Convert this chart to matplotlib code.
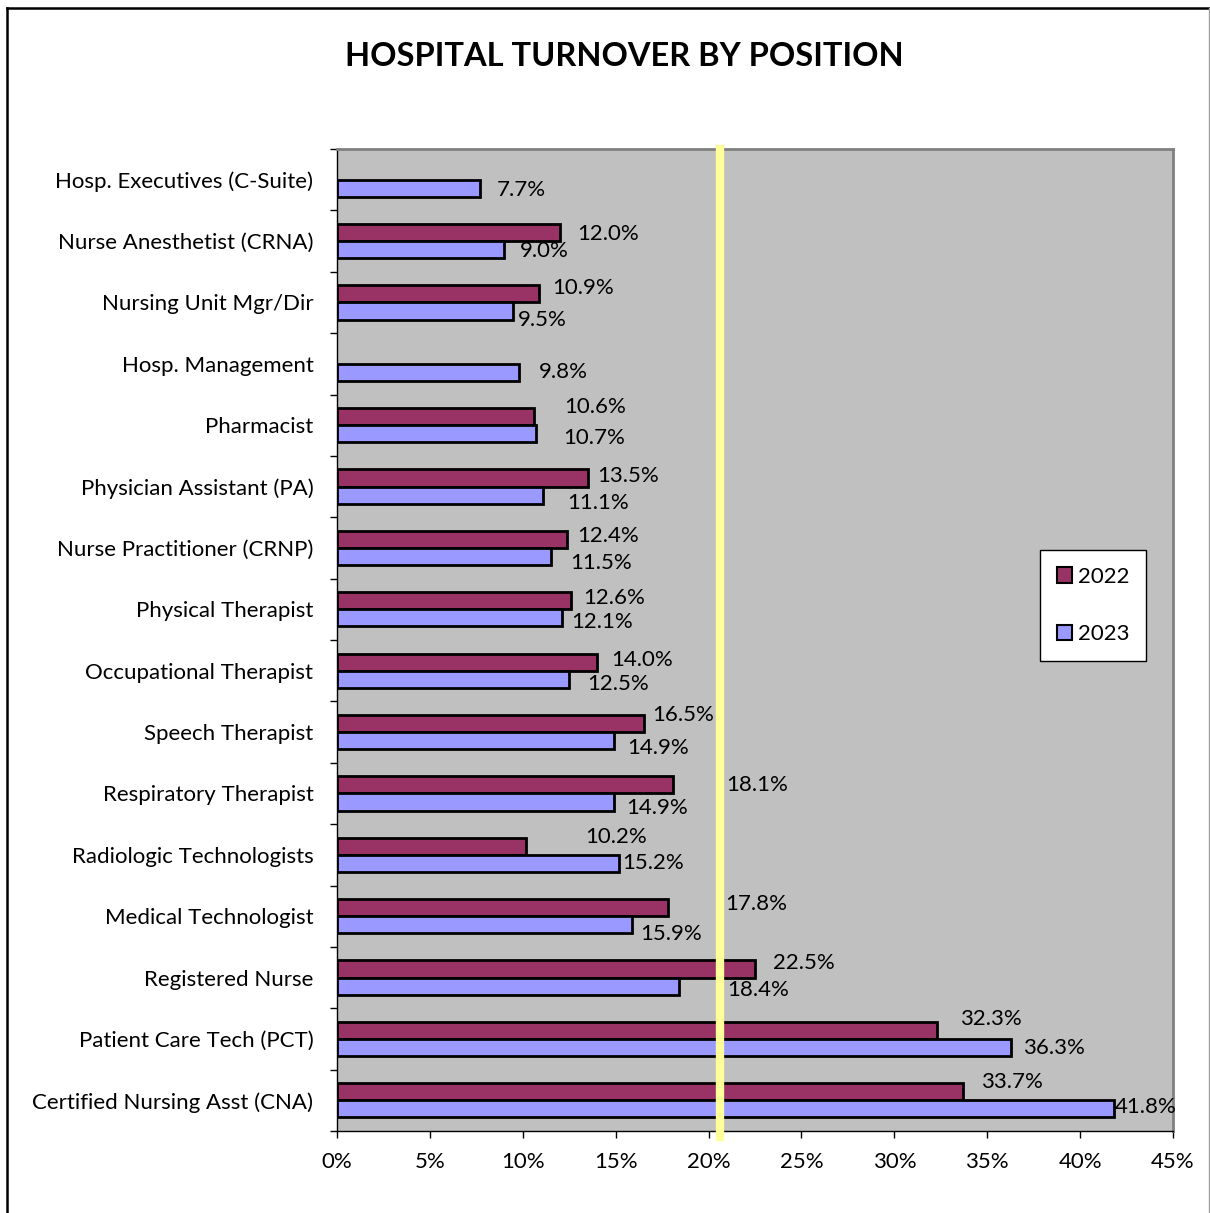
import matplotlib.pyplot as plt
from matplotlib.patches import Rectangle
from matplotlib.lines import Line2D
import numpy as np

plt.rcParams["font.family"] = ["Lato", "DejaVu Sans"]

# categories listed bottom to top
positions = [
    "Certified Nursing Asst (CNA)",
    "Patient Care Tech (PCT)",
    "Registered Nurse",
    "Medical Technologist",
    "Radiologic Technologists",
    "Respiratory Therapist",
    "Speech Therapist",
    "Occupational Therapist",
    "Physical Therapist",
    "Nurse Practitioner (CRNP)",
    "Physician Assistant (PA)",
    "Pharmacist",
    "Hosp. Management",
    "Nursing Unit Mgr/Dir",
    "Nurse Anesthetist (CRNA)",
    "Hosp. Executives (C-Suite)",
]
turnover_2022 = [33.7, 32.3, 22.5, 17.8, 10.2, 18.1, 16.5, 14.0, 12.6, 12.4, 13.5, 10.6, None, 10.9, 12.0, None]
turnover_2023 = [41.8, 36.3, 18.4, 15.9, 15.2, 14.9, 14.9, 12.5, 12.1, 11.5, 11.1, 10.7, 9.8, 9.5, 9.0, 7.7]
x_ticks = [0, 5, 10, 15, 20, 25, 30, 35, 40, 45]
marker_line = 20.6

# label nudges in pixels (right / down), Excel-style placement
dx_2022 = [18, 23, 18, 58, 59, 53, 9, 14, 12, 10, 9, 30, 0, 13, 17, 0]
dy_2022 = [-10, -11, -6, -4, -9, 0, -8, -2, -3, -3, -2, -10, 0, -6, 2, 0]
dx_2023 = [1, 12, 48, 8, 3, 12, 13, 18, 9, 20, 24, 27, 20, 4, 16, 17]
dy_2023 = [-2, 0, 4, 9, 0, 6, 7, 5, 4, 6, 8, 4, 0, 9, 1, 2]

c2022 = "#993366"
c2023 = "#9999FF"

fig = plt.figure(figsize=(12.1, 12.13), dpi=100)
ax = fig.add_axes([337 / 1210, 82 / 1213, 836 / 1210, 982 / 1213])
ax.set_facecolor("#C0C0C0")

y = np.arange(len(positions))
h = 0.28
px2pt = 0.72
fs = 16

for i, v in enumerate(turnover_2022):
    if v is None:
        continue
    ax.barh(y[i] + h / 2, v, height=h, color=c2022, edgecolor="black", linewidth=2, zorder=3)
    ax.annotate(f"{v:.1f}%", (v, y[i] + h / 2), xytext=(dx_2022[i] * px2pt, -dy_2022[i] * px2pt),
                textcoords="offset points", ha="left", va="center", fontsize=fs, zorder=5)
for i, v in enumerate(turnover_2023):
    ax.barh(y[i] - h / 2, v, height=h, color=c2023, edgecolor="black", linewidth=2, zorder=3)
    ax.annotate(f"{v:.1f}%", (v, y[i] - h / 2), xytext=(dx_2023[i] * px2pt, -dy_2023[i] * px2pt),
                textcoords="offset points", ha="left", va="center", fontsize=fs, zorder=5)

ax.axvline(marker_line, color="#FFFF99", linewidth=6, zorder=4, ymin=-0.006, clip_on=False)

ax.set_xlim(0, 45)
ax.set_ylim(-0.5, len(positions) - 0.5)
ax.set_xticks(x_ticks)
ax.set_xticklabels([f"{t}%" for t in x_ticks], fontsize=fs)
ax.set_yticks(y)
ax.set_yticklabels(positions, fontsize=fs)
ax.set_yticks(np.arange(len(positions) + 1) - 0.5, minor=True)
ax.tick_params(axis="y", which="major", length=0, pad=17)
ax.tick_params(axis="y", which="minor", length=5, width=1, direction="out")
ax.tick_params(axis="x", length=5, width=1, direction="out", pad=10)

for s in ["top", "right"]:
    ax.spines[s].set_color("#808080")
    ax.spines[s].set_linewidth(2)
for s in ["left", "bottom"]:
    ax.spines[s].set_color("black")
    ax.spines[s].set_linewidth(1)

handles = [Rectangle((0, 0), 1, 1, facecolor=c2022, edgecolor="black", linewidth=1.5),
           Rectangle((0, 0), 1, 1, facecolor=c2023, edgecolor="black", linewidth=1.5)]
leg = fig.legend(handles, ["2022", "2023"], loc="upper left",
                 bbox_to_anchor=(1040 / 1210, 1 - 550 / 1213), fontsize=fs,
                 frameon=True, fancybox=False, edgecolor="black", facecolor="white",
                 framealpha=1, labelspacing=1.7, handlelength=0.7, handleheight=0.7,
                 handletextpad=0.25, borderpad=0.75, borderaxespad=0)
leg.get_frame().set_linewidth(1)

fig.text(624 / 1210, 1 - 57 / 1213, "HOSPITAL TURNOVER BY POSITION", ha="center", va="center",
         fontsize=23.5, fontweight="bold")

# outer chart frame: black left/top, thin grey right
fig.lines.append(Line2D([7 / 1210, 7 / 1210], [0, 1 - 8 / 1213], transform=fig.transFigure,
                        color="black", linewidth=1.8))
fig.lines.append(Line2D([7 / 1210, 1], [1 - 8 / 1213, 1 - 8 / 1213], transform=fig.transFigure,
                        color="black", linewidth=1.8))
fig.lines.append(Line2D([1209 / 1210, 1209 / 1210], [0, 1 - 8 / 1213], transform=fig.transFigure,
                        color="#A0A0A0", linewidth=1))

fig.savefig("out.png", dpi=100)
